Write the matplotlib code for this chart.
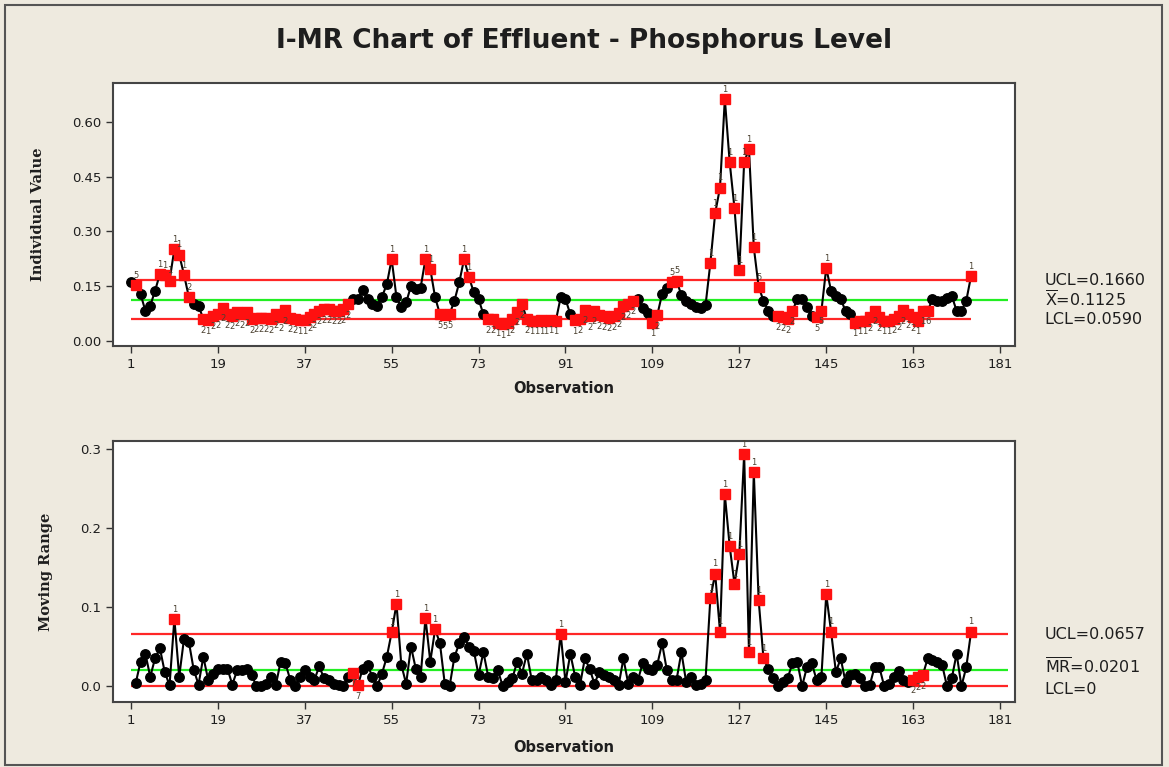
import numpy as np
import matplotlib.pyplot as plt

# I-MR chart of effluent phosphorus
obs = np.arange(1, 176)

individual = [
    0.160, 0.153, 0.128, 0.082, 0.096, 0.137, 0.183, 0.180, 0.165, 0.251,
    0.236, 0.181, 0.120, 0.100, 0.096, 0.060, 0.057, 0.069, 0.073, 0.091,
    0.073, 0.069, 0.078, 0.073, 0.078, 0.060, 0.062, 0.062, 0.062, 0.060,
    0.073, 0.064, 0.084, 0.062, 0.060, 0.057, 0.057, 0.064, 0.073, 0.082,
    0.087, 0.087, 0.082, 0.082, 0.087, 0.100, 0.114, 0.114, 0.139, 0.114,
    0.102, 0.096, 0.121, 0.155, 0.224, 0.119, 0.092, 0.105, 0.150, 0.142,
    0.146, 0.224, 0.197, 0.119, 0.073, 0.070, 0.073, 0.110, 0.160, 0.224,
    0.175, 0.133, 0.114, 0.073, 0.060, 0.060, 0.050, 0.046, 0.050, 0.060,
    0.080, 0.100, 0.060, 0.055, 0.055, 0.057, 0.055, 0.058, 0.055, 0.119,
    0.114, 0.073, 0.057, 0.060, 0.085, 0.068, 0.082, 0.070, 0.068, 0.063,
    0.068, 0.075, 0.095, 0.100, 0.110, 0.114, 0.090, 0.075, 0.050, 0.070,
    0.128, 0.146, 0.160, 0.165, 0.125, 0.110, 0.100, 0.093, 0.090, 0.097,
    0.213, 0.350, 0.420, 0.663, 0.490, 0.363, 0.193, 0.490, 0.525, 0.256,
    0.148, 0.110, 0.082, 0.069, 0.068, 0.064, 0.060, 0.082, 0.114, 0.114,
    0.092, 0.069, 0.064, 0.082, 0.200, 0.137, 0.123, 0.114, 0.082, 0.073,
    0.050, 0.055, 0.055, 0.064, 0.082, 0.064, 0.055, 0.055, 0.060, 0.068,
    0.084, 0.073, 0.064, 0.055, 0.082, 0.082, 0.114, 0.110, 0.110, 0.116,
    0.123, 0.082, 0.082, 0.110, 0.178,
]

# moving range starts at observation 2
mr_obs = np.arange(2, 176)
moving_range = [
    0.004, 0.031, 0.041, 0.012, 0.035, 0.048, 0.018, 0.001, 0.085,
    0.012, 0.060, 0.056, 0.021, 0.002, 0.037, 0.008, 0.016, 0.022, 0.022,
    0.022, 0.002, 0.020, 0.020, 0.022, 0.014, 0.000, 0.000, 0.003, 0.012,
    0.001, 0.031, 0.029, 0.008, 0.000, 0.012, 0.020, 0.012, 0.008, 0.025,
    0.010, 0.008, 0.003, 0.001, 0.000, 0.012, 0.017, 0.001, 0.022, 0.027,
    0.012, 0.000, 0.016, 0.037, 0.068, 0.104, 0.027, 0.003, 0.050, 0.022,
    0.012, 0.086, 0.031, 0.072, 0.054, 0.003, 0.000, 0.037, 0.054, 0.062,
    0.050, 0.045, 0.014, 0.043, 0.012, 0.010, 0.020, 0.000, 0.005, 0.010,
    0.031, 0.016, 0.041, 0.008, 0.008, 0.012, 0.008, 0.001, 0.008, 0.066,
    0.005, 0.041, 0.012, 0.001, 0.035, 0.022, 0.003, 0.018, 0.014, 0.012,
    0.008, 0.001, 0.035, 0.003, 0.012, 0.008, 0.029, 0.022, 0.020, 0.027,
    0.054, 0.020, 0.008, 0.008, 0.043, 0.005, 0.012, 0.001, 0.003, 0.008,
    0.111, 0.142, 0.069, 0.242, 0.177, 0.129, 0.167, 0.293, 0.043, 0.270,
    0.109, 0.035, 0.022, 0.010, 0.000, 0.005, 0.010, 0.029, 0.031, 0.000,
    0.024, 0.029, 0.008, 0.012, 0.116, 0.069, 0.018, 0.035, 0.005, 0.014,
    0.016, 0.010, 0.000, 0.001, 0.024, 0.024, 0.000, 0.003, 0.012, 0.019,
    0.008, 0.005, 0.008, 0.012, 0.014, 0.035, 0.033, 0.030, 0.027, 0.000,
    0.010, 0.041, 0.000, 0.024, 0.069,
]

I_UCL, I_CL, I_LCL = 0.1660, 0.1125, 0.0590
MR_UCL, MR_CL, MR_LCL = 0.0657, 0.0201, 0.0

# observations flagged red by the tests
i_flagged = ([2] + list(range(7, 14)) + list(range(16, 47)) + [55, 62, 63, 65, 66, 67, 70, 71]
             + list(range(75, 90)) + list(range(93, 106)) + [109, 110, 113, 114]
             + list(range(121, 132)) + list(range(135, 139)) + [143, 144, 145]
             + list(range(151, 167)) + [175])
mr_flagged = [10, 47, 48, 55, 56, 62, 64, 90] + list(range(121, 133)) + [145, 146, 163, 164, 165, 175]

# test numbers written next to the flagged points that are inside the limits
i_test_labels = {2: "5", 9: "1", 65: "5", 66: "5", 67: "5", 113: "5", 114: "5", 131: "5",
                 165: "1", 166: "6", 143: "5", 144: "5"}
mr_test_labels = {47: "7", 48: "7", 129: "1", 132: "1", 163: "2", 164: "2", 165: "2"}

BG = "#EEEADF"
TXT = "#1e1e1e"
RED = "#FF2626"
GREEN = "#22EE22"

plt.rcParams.update({
    "font.family": "DejaVu Sans",
    "mathtext.fontset": "dejavusans",
    "xtick.labelsize": 9.5,
    "ytick.labelsize": 9.5,
    "xtick.color": TXT,
    "ytick.color": TXT,
})

fig = plt.figure(figsize=(11.69, 7.67), dpi=100, facecolor=BG)
ax_i = fig.add_axes([0.0967, 0.549, 0.7716, 0.343])
ax_mr = fig.add_axes([0.0967, 0.0847, 0.7716, 0.3403])

# outer frame
fig.patches.append(plt.Rectangle((0.004, 0.002), 0.99, 0.992, transform=fig.transFigure,
                                 fill=False, edgecolor="#555555", linewidth=1.5))

fig.text(0.5, 0.947, "I-MR Chart of Effluent - Phosphorus Level", ha="center", va="center",
         fontsize=19, fontweight="bold", color=TXT)


def draw_panel(ax, x, y, flagged, labels, ucl, cl, lcl, red_end, green_end):
    y = np.asarray(y)
    ax.hlines([ucl, lcl], 1, red_end, colors=RED, linewidth=1.6, zorder=1)
    ax.hlines(cl, 1, green_end, colors=GREEN, linewidth=1.6, zorder=1)
    ax.plot(x, y, "-", color="black", linewidth=1.5, zorder=2)
    ax.plot(x, y, "o", color="black", markersize=6.8, zorder=3)
    mask = np.isin(x, flagged)
    ax.plot(x[mask], y[mask], "s", color="#FF1010", markersize=7.5, zorder=4)
    for xi, yi in zip(x[mask], y[mask]):
        if yi > ucl:
            txt, above = "1", True
        elif yi < lcl:
            txt, above = "1", False
        else:
            txt = labels.get(int(xi), "2")
            above = yi > cl and int(xi) not in (47, 48, 163, 164, 165)
        ax.annotate(txt, (xi, yi), xytext=(0, 7 if above else -8), textcoords="offset points",
                    ha="center", va="center", fontsize=6, color="#4a4030", zorder=5)


def style_axes(ax, ylim, yticks, yfmt, ylabel, label_x, xlabel_y):
    ax.set_facecolor("white")
    ax.set_xlim(-2.7, 184.1)
    ax.set_ylim(*ylim)
    ax.set_xticks(np.arange(1, 182, 18))
    ax.set_yticks(yticks)
    ax.set_yticklabels([yfmt % v for v in yticks])
    ax.tick_params(direction="out", length=5, width=1, color="#333333")
    for sp in ax.spines.values():
        sp.set_color("#444444")
        sp.set_linewidth(1.5)
    ax.set_xlabel("Observation", fontsize=10.5, fontweight="bold", color=TXT)
    ax.xaxis.set_label_coords(0.5, xlabel_y)
    ax.set_ylabel(ylabel, fontsize=10.5, fontweight="bold", color=TXT, family="DejaVu Serif")
    ax.yaxis.set_label_coords(label_x, 0.5)


draw_panel(ax_i, obs, individual, i_flagged, i_test_labels, I_UCL, I_CL, I_LCL, 175, 182.6)
style_axes(ax_i, (-0.014, 0.707), [0.0, 0.15, 0.30, 0.45, 0.60], "%.2f", "Individual Value",
           -0.075, -0.135)

draw_panel(ax_mr, mr_obs, moving_range, mr_flagged, mr_test_labels, MR_UCL, MR_CL, MR_LCL,
           182.6, 182.6)
style_axes(ax_mr, (-0.020, 0.3095), [0.0, 0.1, 0.2, 0.3], "%.1f", "Moving Range", -0.067, -0.145)

# limit values on the right
fs = 11.5
tr_i = ax_i.get_yaxis_transform()
ax_i.text(1.033, I_UCL, "UCL=%.4f" % I_UCL, transform=tr_i, va="center", fontsize=fs, color=TXT)
ax_i.text(1.033, I_CL, r"$\overline{\mathrm{X}}$=%.4f" % I_CL, transform=tr_i, va="center",
          fontsize=fs, color=TXT)
ax_i.text(1.033, I_LCL, "LCL=%.4f" % I_LCL, transform=tr_i, va="center", fontsize=fs, color=TXT)

tr_mr = ax_mr.get_yaxis_transform()
ax_mr.text(1.033, MR_UCL, "UCL=%.4f" % MR_UCL, transform=tr_mr, va="center", fontsize=fs, color=TXT)
ax_mr.text(1.033, MR_CL + 0.0045, r"$\overline{\mathrm{MR}}$=%.4f" % MR_CL, transform=tr_mr,
           va="center", fontsize=fs, color=TXT)
ax_mr.text(1.033, MR_LCL - 0.004, "LCL=0", transform=tr_mr, va="center", fontsize=fs, color=TXT)

fig.savefig("out.png", dpi=100, facecolor=BG)
